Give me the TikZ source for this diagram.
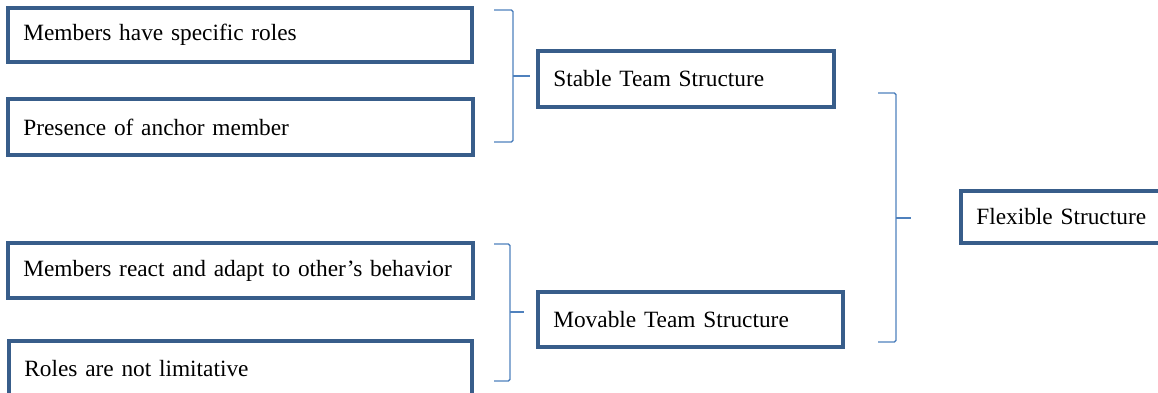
\documentclass[tikz,border=0pt]{standalone}
\usepackage{fontspec}
\setmainfont{Liberation Serif}
\usetikzlibrary{calc}

\definecolor{boxblue}{RGB}{56,93,138}
\definecolor{braceblue}{RGB}{79,129,189}

\def \padx {11.5pt}

\tikzset{
  itembox/.style={draw=boxblue, line width=2.4pt, fill=white, rectangle,
    inner xsep=\padx, inner ysep=0pt, align=left,
    font=\fontsize{17.5}{21}\selectfont},
  bracket/.style={draw=braceblue, line width=1pt, rounded corners=1.2pt},
}

\begin{document}
\begin{tikzpicture}[x=0.75pt, y=-0.75pt]
\useasboundingbox (0,0) rectangle (1158,393);

% left column
\node[itembox, text width=348pt-2*\padx, minimum height=40.5pt] (roles) at (240,35) {Members have specific roles};
\node[itembox, text width=348.75pt-2*\padx, minimum height=42pt] (anchor) at (240.5,127) {Presence of anchor member};
\node[itembox, text width=348.75pt-2*\padx, minimum height=41.25pt] (react) at (240.5,270.5) {Members react and adapt to other’s behavior};
\node[itembox, text width=347.25pt-2*\padx, minimum height=41.25pt] (limit) at (240.5,368.5) {Roles are not limitative};

% middle column
\node[itembox, text width=222pt-2*\padx, minimum height=42pt] (stable) at (686,79) {Stable Team Structure};
\node[itembox, text width=228.75pt-2*\padx, minimum height=41.25pt] (movable) at (690.5,319.5) {Movable Team Structure};

% right column
\node[itembox, text width=153.75pt-2*\padx, minimum height=39pt] (flex) at (1063.5,217) {Flexible Structure};

% brackets
\coordinate (b1t) at (494,10);
\coordinate (b1b) at (494,142);
\draw[bracket] (b1t) -- ++(19,0) -- ($(b1b)+(19,0)$) -- (b1b);
\draw[bracket] (513,76) -- ([xshift=-4.5pt]stable.west |- 0,76);

\coordinate (b2t) at (494,244);
\coordinate (b2b) at (494,381);
\draw[bracket] (b2t) -- ++(16,0) -- ($(b2b)+(16,0)$) -- (b2b);
\draw[bracket] (510,312) -- ([xshift=-9pt]movable.west |- 0,312);

\coordinate (b3t) at (878,93);
\coordinate (b3b) at (878,342);
\draw[bracket] (b3t) -- ++(18,0) -- ($(b3b)+(18,0)$) -- (b3b);
\draw[bracket] (896,218) -- ([xshift=-36pt]flex.west |- 0,218);
\end{tikzpicture}
\end{document}
